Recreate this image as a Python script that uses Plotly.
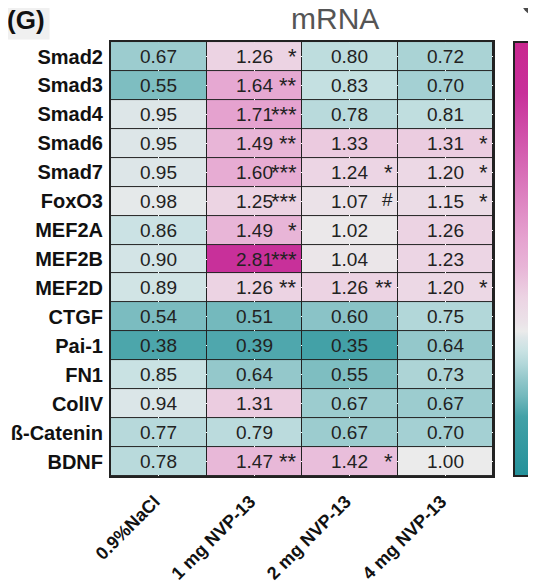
import math
import plotly.graph_objects as go

genes = ["Smad2", "Smad3", "Smad4", "Smad6", "Smad7", "FoxO3", "MEF2A", "MEF2B",
         "MEF2D", "CTGF", "Pai-1", "FN1", "ColIV", "ß-Catenin", "BDNF"]
groups = ["0.9%NaCl", "1 mg NVP-13", "2 mg NVP-13", "4 mg NVP-13"]

nacl = [0.67, 0.55, 0.95, 0.95, 0.95, 0.98, 0.86, 0.90, 0.89, 0.54, 0.38, 0.85, 0.94, 0.77, 0.78]
mg1 = [1.26, 1.64, 1.71, 1.49, 1.60, 1.25, 1.49, 2.81, 1.26, 0.51, 0.39, 0.64, 1.31, 0.79, 1.47]
mg2 = [0.80, 0.83, 0.78, 1.33, 1.24, 1.07, 1.02, 1.04, 1.26, 0.60, 0.35, 0.55, 0.67, 0.67, 1.42]
mg4 = [0.72, 0.70, 0.81, 1.31, 1.20, 1.15, 1.26, 1.23, 1.20, 0.75, 0.64, 0.73, 0.67, 0.70, 1.00]

sig_nacl = [""] * 15
sig_mg1 = ["*", "**", "***", "**", "***", "***", "*", "***", "**", "", "", "", "", "", "**"]
sig_mg2 = ["", "", "", "", "*", "#", "", "", "**", "", "", "", "", "", "*"]
sig_mg4 = ["", "", "", "*", "*", "*", "", "", "*", "", "", "", "", "", ""]

cb_ticks = [1, 2]
zmin, zmax = -0.1, 3.2

stops = [(-0.1, "#24919a"), (0.35, "#43a1a7"), (0.51, "#74b9bd"), (0.64, "#94c8cb"),
         (0.75, "#b2d7d9"), (0.85, "#c9e2e3"), (0.95, "#dde6e8"), (1.00, "#ebebeb"),
         (1.07, "#ebe2e8"), (1.26, "#ecd3e3"), (1.49, "#e8b5d7"), (1.71, "#e5a2cf"),
         (2.81, "#c8309a"), (3.2, "#c9288f")]
colorscale = [[(v - zmin) / (zmax - zmin), c] for v, c in stops]

cols = [nacl, mg1, mg2, mg4]
sigs = [sig_nacl, sig_mg1, sig_mg2, sig_mg4]
z = [[cols[j][i] for j in range(4)] for i in range(15)]

OFF = 8  # page body margin
W, H = 528, 579
ml, mt, pw, ph = 103, 34, 382, 434
mr, mb = W - ml - pw, H - mt - ph
FONT = "Liberation Sans, Arial"

def px(x):
    return (x - OFF - ml) / pw

def py(y):
    return (mt + ph - (y - OFF)) / ph

fig = go.Figure(go.Heatmap(
    z=z, x=groups, y=genes, zmin=zmin, zmax=zmax, colorscale=colorscale,
    xgap=1, ygap=1, hoverinfo="skip",
    colorbar=dict(x=px(514), xanchor="left", thickness=18, len=1, lenmode="fraction",
                  y=0.5, yanchor="middle", ypad=0, xpad=0, outlinewidth=2, outlinecolor="#222",
                  tickvals=cb_ticks, showticklabels=False, ticks="inside", ticklen=4,
                  tickwidth=2, tickcolor="#222"),
))

annotations = []
for j in range(4):
    for i in range(15):
        annotations.append(dict(x=groups[j], y=genes[i], xref="x", yref="y",
                                text=f"{cols[j][i]:.2f}", showarrow=False,
                                xanchor="center", yanchor="middle",
                                font=dict(size=19, color="#222", family=FONT)))
        s = sigs[j][i]
        if s:
            annotations.append(dict(x=j + 0.5, y=genes[i], xref="x", yref="y", text=s,
                                    showarrow=False, xanchor="right", yanchor="middle",
                                    xshift=-3, yshift=2 if s == "#" else 0,
                                    font=dict(size=19 if s == "#" else 22, color="#222", family=FONT)))

annotations.append(dict(x=px(335), y=py(19), xref="paper", yref="paper", text="mRNA",
                        showarrow=False, xanchor="center", yanchor="middle",
                        font=dict(size=30, color="#555", family=FONT)))
annotations.append(dict(x=px(26), y=py(20), xref="paper", yref="paper", text="<b>(G)</b>",
                        showarrow=False, xanchor="center", yanchor="middle", bgcolor="#f0f0f0",
                        borderpad=4, font=dict(size=26, color="#111", family=FONT)))

shapes = []
for v in cb_ticks:
    yy = (v - zmin) / (zmax - zmin)
    shapes.append(dict(type="line", xref="paper", yref="paper", x0=px(515), x1=px(519),
                       y0=yy, y1=yy, line=dict(color="#222", width=2)))
# fragment of the neighbouring panel's badge at the top-right corner
cx, cy, r = 537, 0, 16
pts = [(cx + r * math.cos(a * math.pi / 18), cy + r * math.sin(a * math.pi / 18)) for a in range(37)]
path = "M " + " L ".join(f"{px(x):.4f},{py(y):.4f}" for x, y in pts) + " Z"
shapes.append(dict(type="path", xref="paper", yref="paper", path=path,
                   fillcolor="#4a4a4a", line=dict(width=0)))

fig.update_layout(
    width=W, height=H, margin=dict(l=ml, r=mr, t=mt, b=mb, autoexpand=False),
    paper_bgcolor="white", plot_bgcolor="#222",
    annotations=annotations, shapes=shapes,
    font=dict(family=FONT, color="#111"),
)
fig.update_xaxes(tickangle=-45, ticks="", ticklabelstandoff=6, ticklabelshift=-4,
                 showline=True, mirror=True, linewidth=2, linecolor="#222",
                 tickfont=dict(size=18, family=FONT, weight="bold", color="#111"))
fig.update_yaxes(autorange="reversed", ticks="", ticklabelstandoff=2, showline=True, mirror=True,
                 linewidth=2, linecolor="#222",
                 tickfont=dict(size=20, family=FONT, weight="bold", color="#111"))

fig.write_html("out.html")
